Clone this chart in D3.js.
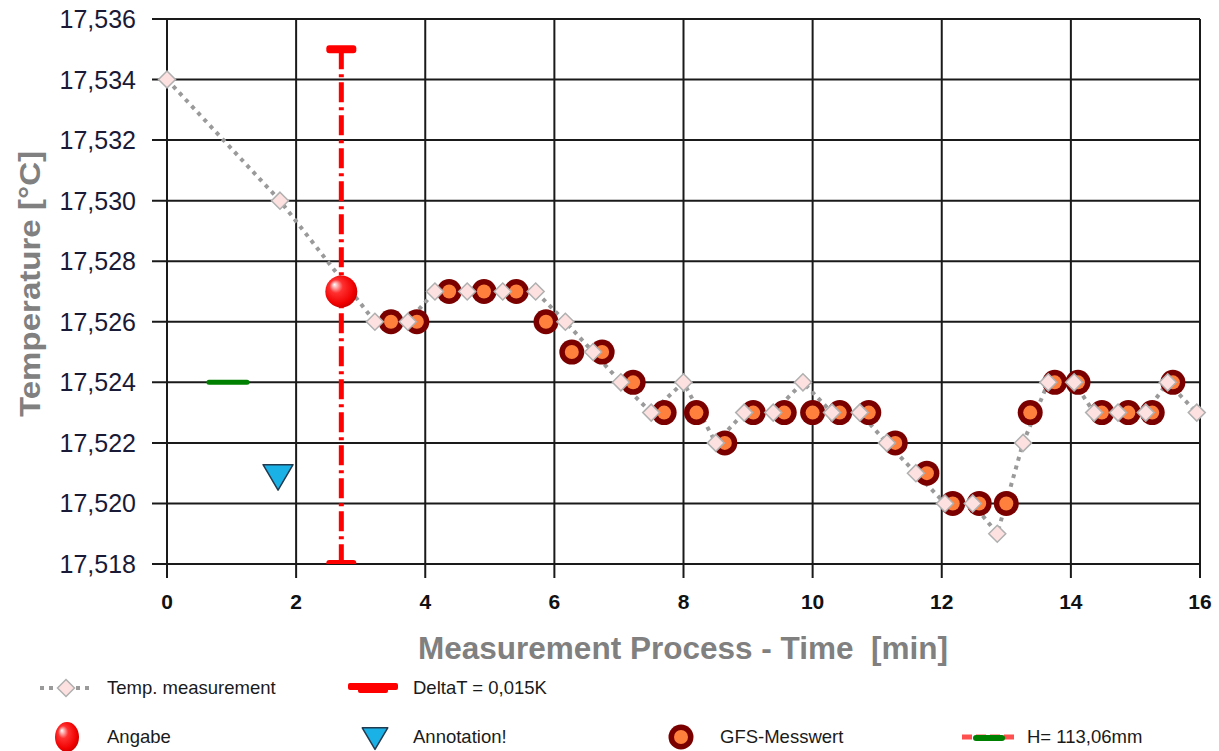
<!DOCTYPE html>
<html><head><meta charset="utf-8">
<script src="https://cdn.jsdelivr.net/npm/d3@7"></script>
<style>body{margin:0;background:#fff;} svg{display:block;font-family:"Liberation Sans",Arial,sans-serif;}</style>
</head><body>
<svg id="c" width="1219" height="751"></svg>
<script>
// ---- data ----
const xTicks = [0,2,4,6,8,10,12,14,16];
const yTicks = [17.518,17.520,17.522,17.524,17.526,17.528,17.530,17.532,17.534,17.536];
const tempX = [0,1.75,3.22,3.73,4.15,4.65,5.20,5.71,6.17,6.6,7.03,7.5,8.0,8.5,8.94,9.39,9.85,10.3,10.73,11.15,11.6,12.05,12.48,12.86,13.26,13.65,14.05,14.36,14.73,15.16,15.5,15.95];
const tempY = [17.534,17.530,17.526,17.526,17.527,17.527,17.527,17.527,17.526,17.525,17.524,17.523,17.524,17.522,17.523,17.523,17.524,17.523,17.523,17.522,17.521,17.520,17.520,17.519,17.522,17.524,17.524,17.523,17.523,17.523,17.524,17.523];
const gfsX = [3.47,3.87,4.37,4.91,5.41,5.87,6.27,6.74,7.22,7.7,8.2,8.64,9.08,9.56,10.0,10.42,10.87,11.28,11.77,12.17,12.58,13.0,13.37,13.75,14.11,14.48,14.89,15.26,15.58];
const gfsY = [17.526,17.526,17.527,17.527,17.527,17.526,17.525,17.525,17.524,17.523,17.523,17.522,17.523,17.523,17.523,17.523,17.523,17.522,17.521,17.520,17.520,17.520,17.523,17.524,17.524,17.523,17.523,17.523,17.524];
const angabe = [2.7, 17.527];
const deltaT = [2.7, 17.518, 17.535];
const hLineX = [0.65, 1.24];
const hLineY = 17.524;
const annotation = [1.72, 17.521];
const legendLabels = ["Temp. measurement","DeltaT = 0,015K","Angabe","Annotation!","GFS-Messwert","H= 113,06mm"];
const xTitle = "Measurement Process - Time  [min]";
const yTitle = "Temperature [°C]";

// ---- chart ----
const svg = d3.select("#c");
const L=167,R=1200,T=19,B=564;
const x = d3.scaleLinear().domain([0,16]).range([L,R]);
const y = d3.scaleLinear().domain([17.518,17.536]).range([B,T]);
const defs = svg.append("defs");
const grad = defs.append("radialGradient").attr("id","sph").attr("cx","45%").attr("cy","45%").attr("r","60%").attr("fx","28%").attr("fy","28%");
grad.append("stop").attr("offset","0%").attr("stop-color","#ffffff");
grad.append("stop").attr("offset","35%").attr("stop-color","#ff3030");
grad.append("stop").attr("offset","80%").attr("stop-color","#f00000");
grad.append("stop").attr("offset","100%").attr("stop-color","#c00000");
defs.append("clipPath").attr("id","plot").append("rect").attr("x",L).attr("y",T-2).attr("width",R-L).attr("height",B-T+2);

// grid
const g = svg.append("g");
g.selectAll(".gx").data(xTicks).join("line").attr("x1",d=>x(d)).attr("x2",d=>x(d)).attr("y1",T).attr("y2",B+14).attr("stroke","#1a1a1a").attr("stroke-width",2);
g.selectAll(".gy").data(yTicks).join("line").attr("x1",L-15).attr("x2",R).attr("y1",d=>y(d)).attr("y2",d=>y(d)).attr("stroke","#1a1a1a").attr("stroke-width",2);

// tick labels
svg.append("g").selectAll("text").data(yTicks).join("text")
  .attr("x",136).attr("y",d=>y(d)).attr("dy","0.36em").attr("text-anchor","end")
  .attr("font-size",25).attr("fill","#1a1a36").text(d=>d3.format(".3f")(d).replace(".",","));
svg.append("g").selectAll("text").data(xTicks).join("text")
  .attr("x",d=>x(d)).attr("y",609).attr("text-anchor","middle")
  .attr("font-size",21).attr("font-weight","bold").attr("fill","#111").text(d=>d);

// axis titles
svg.append("text").attr("x",683).attr("y",659).attr("text-anchor","middle").attr("font-size",31).attr("font-weight","bold").attr("fill","#808080")
  .style("white-space","pre").attr("textLength",530).attr("lengthAdjust","spacingAndGlyphs").text(xTitle);
svg.append("text").attr("transform","translate(40,284) rotate(-90)").attr("text-anchor","middle").attr("font-size",30).attr("font-weight","bold").attr("fill","#808080")
  .attr("textLength",266).attr("lengthAdjust","spacingAndGlyphs").text(yTitle);

// H line
svg.append("line").attr("x1",x(hLineX[0])).attr("x2",x(hLineX[1])).attr("y1",y(hLineY)).attr("y2",y(hLineY)).attr("stroke","#008000").attr("stroke-width",5).attr("stroke-linecap","round");

// annotation triangle
function tri(sel,cx,cy,s){
  sel.append("path").attr("d",`M${cx-15*s},${cy-8.5*s}L${cx+15*s},${cy-8.5*s}L${cx},${cy+17*s}Z`).attr("fill","#1ab2e6").attr("stroke","#223a50").attr("stroke-width",1.5).attr("stroke-linejoin","round");
}
tri(svg, x(annotation[0]), y(annotation[1]), 1);

// temp line
const line = d3.line().x((d,i)=>x(tempX[i])).y(d=>y(d));
svg.append("path").datum(tempY).attr("d",line).attr("fill","none").attr("stroke","#9a9a9a").attr("stroke-width",4).attr("stroke-dasharray","4,5");

// GFS markers
function gfs(sel,cx,cy){
  sel.append("circle").attr("cx",cx).attr("cy",cy).attr("r",12.5).attr("fill","#7a0000");
  sel.append("circle").attr("cx",cx).attr("cy",cy).attr("r",7).attr("fill","#ff7f3c");
}
const gg = svg.append("g");
gfsY.forEach((v,i)=>gfs(gg,x(gfsX[i]),y(v)));

// temp diamonds
function diamond(sel,cx,cy){
  sel.append("path").attr("d",`M${cx},${cy-8.5}L${cx+8.5},${cy}L${cx},${cy+8.5}L${cx-8.5},${cy}Z`).attr("fill","#fde0e0").attr("stroke","#b0b0b0").attr("stroke-width",1.5);
}
const dg = svg.append("g");
tempY.forEach((v,i)=>diamond(dg,x(tempX[i]),y(v)));

// DeltaT error bar
const eb = svg.append("g").attr("clip-path","url(#plot)");
eb.append("line").attr("x1",x(deltaT[0])).attr("x2",x(deltaT[0])).attr("y1",y(deltaT[2])).attr("y2",y(deltaT[1])).attr("stroke","#ff0000").attr("stroke-width",5).attr("stroke-dasharray","20,5,3,5");
[deltaT[1],deltaT[2]].forEach(v=>{
  eb.append("rect").attr("x",x(deltaT[0])-15).attr("y",y(v)-4).attr("width",30).attr("height",8).attr("rx",3).attr("fill","#ff0000");
});

// Angabe
function sphere(sel,cx,cy,rx,ry){
  sel.append("ellipse").attr("cx",cx).attr("cy",cy).attr("rx",rx).attr("ry",ry).attr("fill","url(#sph)");
}
sphere(svg,x(angabe[0]),y(angabe[1]),16,16);

// legend
const lg = svg.append("g").attr("font-size",18.5).attr("fill","#1a1a1a");
const r1=688, r2=737;
lg.append("line").attr("x1",40).attr("x2",92).attr("y1",r1).attr("y2",r1).attr("stroke","#9a9a9a").attr("stroke-width",4).attr("stroke-dasharray","4,5");
diamond(lg,66,r1);
lg.append("rect").attr("x",348).attr("y",r1-5).attr("width",50).attr("height",7).attr("rx",2).attr("fill","#ff0000");
lg.append("rect").attr("x",358).attr("y",r1).attr("width",30).attr("height",5).attr("rx",2).attr("fill","#ff0000");
sphere(lg,67,r2,12,15);
tri(lg,375,r2-2,0.85);
gfs(lg,681,r2);
lg.append("line").attr("x1",962).attr("x2",1015).attr("y1",r2).attr("y2",r2).attr("stroke","#ff5050").attr("stroke-width",5).attr("stroke-dasharray","10,4");
lg.append("line").attr("x1",976).attr("x2",1002).attr("y1",r2+1).attr("y2",r2+1).attr("stroke","#008000").attr("stroke-width",6).attr("stroke-linecap","round");
const lpos = [[107,r1],[413,r1],[107,r2],[413,r2],[720,r2],[1027,r2]];
lg.selectAll("text").data(legendLabels).join("text").attr("x",(d,i)=>lpos[i][0]).attr("y",(d,i)=>lpos[i][1]).attr("dy","0.35em").text(d=>d);
</script>
</body></html>
